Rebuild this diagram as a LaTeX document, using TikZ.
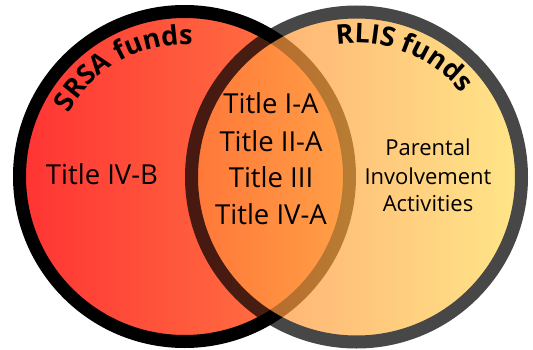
\documentclass[tikz,border=0pt]{standalone}
\usepackage{fontspec}
\setmainfont{Open Sans}
\usetikzlibrary{positioning, decorations.text}
\definecolor{srsaL}{RGB}{255,51,51}
\definecolor{srsaR}{RGB}{255,128,70}
\definecolor{rlisL}{RGB}{255,130,55}
\definecolor{rlisR}{RGB}{255,220,90}

\begin{document}
\begin{tikzpicture}
[x=1pt, y=1pt,
   ring/.style={line width=13pt, draw=black},
   item/.style={font=\fontsize{27.5}{30}\selectfont, inner sep=0pt},
   small/.style={font=\fontsize{22}{24}\selectfont, inner sep=0pt},
   arcText/.style={decorate, decoration={text along path, text align=center,
     text={|\fontsize{27}{30}\selectfont\bfseries|#1}}}]
\useasboundingbox (0,0) rectangle (533,349);
\coordinate (SC) at (184.5,172.5);
\coordinate (RC) at (356.5,172);
% the two sets
\shadedraw[ring, left color=srsaL, right color=srsaR] (SC) circle[radius=165];
\begin{scope}[transparency group, opacity=0.72]
\shadedraw[ring, left color=rlisL, right color=rlisR] (RC) circle[radius=165];
\end{scope}
% set names
\path[arcText={SRSA funds}] (SC) ++(161:132) arc[start angle=161, end angle=77, radius=132];
\path[arcText={RLIS funds}] (RC) ++(111:134) arc[start angle=111, end angle=26, radius=134];
% contents
\node[item] (IVB) at (102,175) {Title IV-B};
\node[item] (IA) at (271,246.3) {Title I-A};
\node[item] (IIA) at (271,208) {Title II-A};
\node[item] (III) at (271,172) {Title III};
\node[item] (IVA) at (271,135) {Title IV-A};
\node[small] (Par) at (428,202) {Parental};
\node[small] (Inv) at (428,173) {Involvement};
\node[small] (Act) at (428,145) {Activities};
\end{tikzpicture}
\end{document}
